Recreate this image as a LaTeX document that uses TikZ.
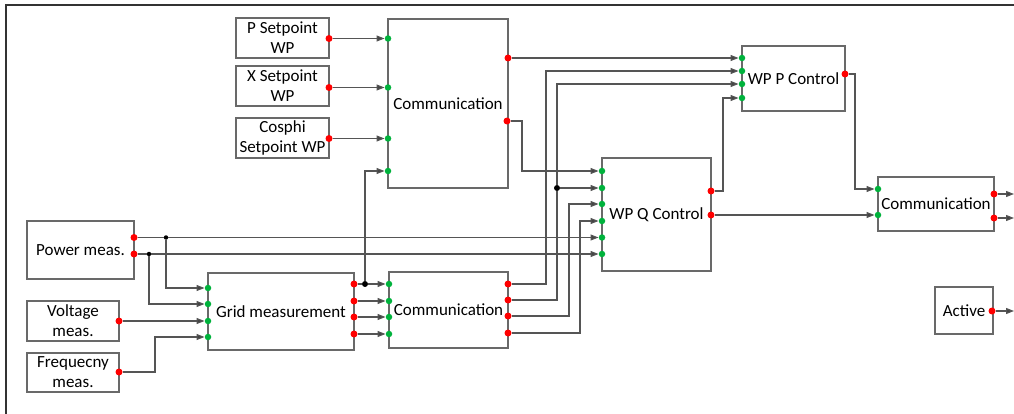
\documentclass[tikz,border=0pt]{standalone}
\usepackage{fontspec}
\setmainfont{Carlito}
\usetikzlibrary{arrows.meta}
\definecolor{rdot}{RGB}{255,0,0}
\definecolor{gdot}{RGB}{0,178,60}
\definecolor{lin}{RGB}{85,85,85}
\definecolor{bx}{RGB}{105,105,105}
\begin{document}
\begin{tikzpicture}[x=1pt,y=-1pt,
 blk/.style={draw=bx, line width=1.2pt, fill=white, inner sep=1pt, align=center, font=\fontsize{17}{20}\selectfont},
 outp/.style={circle, fill=rdot, inner sep=0pt, minimum size=7pt},
 inp/.style={circle, fill=gdot, inner sep=0pt, minimum size=6.5pt},
 jn/.style={circle, fill=black, inner sep=0pt, minimum size=6pt},
 jns/.style={circle, fill=black, inner sep=0pt, minimum size=4.5pt},
 conn/.style={draw=lin, line width=1.1pt, -{Triangle[length=8pt,width=6pt,fill=lin!80!black]}},
 wire/.style={draw=lin, line width=1.1pt},
]
\useasboundingbox (0,0) rectangle (1014,414);
\draw[black!80, line width=1.3pt] (6,414) -- (6,5) -- (1014,5);

% blocks
\node[blk, minimum width=93pt, minimum height=40pt] (psp) at (282.5,38) {P Setpoint\\WP};
\node[blk, minimum width=93pt, minimum height=40pt] (xsp) at (282.5,86) {X Setpoint\\WP};
\node[blk, minimum width=93pt, minimum height=40pt] (csp) at (282.5,138) {Cosphi\\Setpoint WP};
\node[blk, minimum width=120pt, minimum height=169pt] (ctop) at (448,103.5) {Communication};
\node[blk, minimum width=103pt, minimum height=65pt] (wpp) at (793.5,78.5) {WP P Control};
\node[blk, minimum width=116pt, minimum height=54pt] (cr) at (936,204) {Communication};
\node[blk, minimum width=109pt, minimum height=113pt] (wpq) at (656.5,214.5) {WP Q Control};
\node[blk, minimum width=107pt, minimum height=58pt] (pm) at (80.5,250) {Power meas.};
\node[blk, minimum width=92pt, minimum height=40pt] (vm) at (73,321) {Voltage\\meas.};
\node[blk, minimum width=92pt, minimum height=39pt] (fm) at (73,372.5) {Frequecny\\meas.};
\node[blk, minimum width=146pt, minimum height=77pt] (gm) at (281,311.5) {Grid measurement};
\node[blk, minimum width=119pt, minimum height=76pt] (cb) at (448.5,310) {Communication};
\node[blk, minimum width=58pt, minimum height=47pt] (act) at (964,310.5) {Active};

% ports
\node[outp] (pspo) at (329,38.5) {};
\node[outp] (xspo) at (329,87.5) {};
\node[outp] (cspo) at (329,138.5) {};
\node[inp] (cti1) at (388,38.5) {};
\node[inp] (cti2) at (388,87.5) {};
\node[inp] (cti3) at (388,138.5) {};
\node[inp] (cti4) at (388,171) {};
\node[outp] (cto1) at (508,58) {};
\node[outp] (cto2) at (507,121) {};
\node[inp] (wpi1) at (742,58) {};
\node[inp] (wpi2) at (742,71) {};
\node[inp] (wpi3) at (742,84) {};
\node[inp] (wpi4) at (742,98) {};
\node[outp] (wpo) at (845,74) {};
\node[inp] (cri1) at (878,189) {};
\node[inp] (cri2) at (878,215) {};
\node[outp] (cro1) at (994,194) {};
\node[outp] (cro2) at (994,218) {};
\node[inp] (wqi1) at (602,171) {};
\node[inp] (wqi2) at (602,188) {};
\node[inp] (wqi3) at (602,204) {};
\node[inp] (wqi4) at (602,221) {};
\node[inp] (wqi5) at (602,237.5) {};
\node[inp] (wqi6) at (602,254) {};
\node[outp] (wqo1) at (711,191) {};
\node[outp] (wqo2) at (711,215) {};
\node[outp] (pmo1) at (134,237.5) {};
\node[outp] (pmo2) at (134,254) {};
\node[outp] (vmo) at (119,321) {};
\node[outp] (fmo) at (119,372) {};
\node[inp] (gmi1) at (208,288) {};
\node[inp] (gmi2) at (208,304) {};
\node[inp] (gmi3) at (208,321) {};
\node[inp] (gmi4) at (208,337) {};
\node[outp] (gmo1) at (354,284) {};
\node[outp] (gmo2) at (354,301) {};
\node[outp] (gmo3) at (354,317) {};
\node[outp] (gmo4) at (354,334) {};
\node[inp] (cbi1) at (389,284) {};
\node[inp] (cbi2) at (389,301) {};
\node[inp] (cbi3) at (389,317) {};
\node[inp] (cbi4) at (389,334) {};
\node[outp] (cbo1) at (508,284) {};
\node[outp] (cbo2) at (508,300) {};
\node[outp] (cbo3) at (508,316) {};
\node[outp] (cbo4) at (508,333) {};
\node[outp] (acto) at (992,311) {};
\node[jns] (j1) at (166,237.5) {};
\node[jns] (j2) at (149,254) {};
\node[jn] (j3) at (365,284) {};
\node[jn] (j4) at (557,188) {};
\coordinate (e1) at (1014,194);
\coordinate (e2) at (1014,218);
\coordinate (e3) at (1014,311);

% connectors
\draw[conn] (pspo) -- (cti1);
\draw[conn] (xspo) -- (cti2);
\draw[conn] (cspo) -- (cti3);
\draw[wire] (gmo1) -- (j3);
\draw[conn] (j3) -- (cbi1);
\draw[conn] (j3) |- (cti4);
\draw[conn] (gmo2) -- (cbi2);
\draw[conn] (gmo3) -- (cbi3);
\draw[conn] (gmo4) -- (cbi4);
\draw[conn] (cto1) -- (wpi1);
\draw[conn] (cto2) -- ++(15,0) |- (wqi1);
\draw[conn] (cbo1) -- ++(38,0) |- (wpi2);
\draw[wire] (cbo2) -- ++(49,0) -- (j4);
\draw[conn] (j4) |- (wpi3);
\draw[conn] (j4) -- (wqi2);
\draw[conn] (cbo3) -- ++(61,0) |- (wqi3);
\draw[conn] (cbo4) -- ++(72,0) |- (wqi4);
\draw[wire] (pmo1) -- (j1);
\draw[conn] (j1) -- (wqi5);
\draw[conn] (j1) |- (gmi1);
\draw[wire] (pmo2) -- (j2);
\draw[conn] (j2) -- (wqi6);
\draw[conn] (j2) |- (gmi2);
\draw[conn] (vmo) -- (gmi3);
\draw[conn] (fmo) -- ++(36,0) |- (gmi4);
\draw[conn] (wqo1) -- ++(12,0) |- (wpi4);
\draw[conn] (wqo2) -- (cri2);
\draw[conn] (wpo) -- ++(10,0) |- (cri1);
\draw[conn] (cro1) -- (e1);
\draw[conn] (cro2) -- (e2);
\draw[conn] (acto) -- (e3);
\end{tikzpicture}
\end{document}
